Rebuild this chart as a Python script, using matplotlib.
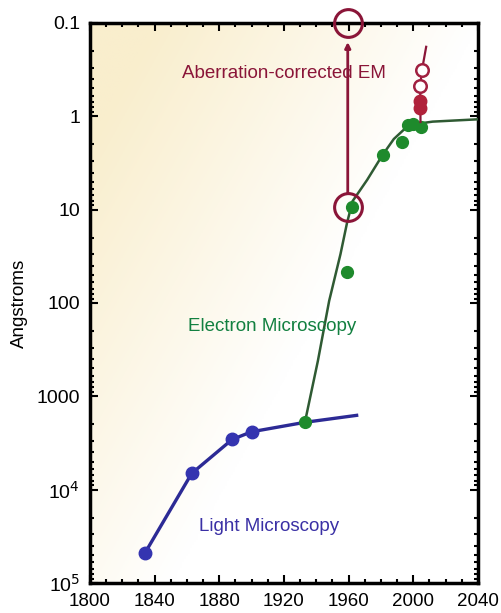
import numpy as np
import matplotlib
matplotlib.use("Agg")
import matplotlib.pyplot as plt
from matplotlib.ticker import FixedLocator, LogLocator, NullFormatter, MultipleLocator

plt.rcParams['font.family'] = ['Liberation Sans', 'DejaVu Sans']

# Light microscopy (blue)
light_years = [1834, 1863, 1888, 1900, 1933]
light_res = [48000, 6700, 2900, 2400, 1900]
light_curve_x = [1834, 1863, 1888, 1900, 1933, 1965]
light_curve_y = [48000, 6700, 2900, 2400, 1900, 1600]

# Electron microscopy (green)
em_years = [1933, 1959, 1962, 1981, 1993, 1997, 2000, 2005]
em_res = [1900, 47, 9.4, 2.6, 1.9, 1.25, 1.2, 1.3]
em_curve_x = [1933, 1941, 1948, 1955, 1959, 1962.5, 1971.5, 1981, 1988, 1994, 2000, 2012, 2043]
em_curve_y = [1900, 420, 95, 30, 14, 8.1, 4.8, 2.6, 1.75, 1.4, 1.22, 1.14, 1.07]

# Aberration-corrected EM (red)
ac_filled_x = [2004, 2004]
ac_filled_y = [0.69, 0.81]
ac_open_x = [2004.3, 2005.4]
ac_open_y = [0.47, 0.32]
ac_line_x = [2004.5, 2004.3, 2005.4, 2008]
ac_line_y = [1.15, 0.47, 0.32, 0.18]
ring_x = [1959.5, 1959.5]
ring_y = [9.4, 0.1]

ytick_vals = [0.1, 1, 10, 100, 1000, 1e4, 1e5]
ytick_labels = ['0.1', '1', '10', '100', '1000', '10$^4$', '10$^5$']
xtick_vals = [1800, 1840, 1880, 1920, 1960, 2000, 2040]

fig = plt.figure(figsize=(5.02, 6.13), dpi=100)
ax = fig.add_axes([0.179, 0.049, 0.773, 0.9135])

# soft cream background fading to white
u, v = np.meshgrid(np.linspace(0, 1, 200), np.linspace(1, 0, 200))
a = np.clip(1.2 - 1.2 * u - 0.95 * (1 - v), 0, 1)[..., None]
cream = np.array([249, 238, 205]) / 255.0
bg = (1 - a) * np.ones(3) + a * cream
ax.imshow(bg, extent=[0, 1, 0, 1], transform=ax.transAxes, aspect='auto', zorder=0)

ax.set_yscale('log')
ax.set_xlim(1800, 2040)
ax.set_ylim(1e5, 0.1)

blue = '#2c2a95'
green_line = '#2f5a33'
green_dot = '#1e8a2c'
red = '#8a1538'

ax.plot(light_curve_x, light_curve_y, color=blue, lw=2.4, zorder=3)
ax.plot(light_years[:-1], light_res[:-1], 'o', color='#3434b0', ms=9, zorder=4)

ax.plot(em_curve_x, em_curve_y, color=green_line, lw=1.8, zorder=3)
ax.plot(em_years, em_res, 'o', color=green_dot, ms=8.5, zorder=4)

ax.plot(ac_line_x, ac_line_y, color=red, lw=1.6, zorder=5)
ax.plot(ac_filled_x, ac_filled_y, 'o', color='#b0213a', ms=9, zorder=6)
ax.plot(ac_open_x, ac_open_y, 'o', mfc='white', mec='#a02040', mew=1.8, ms=9, zorder=6)
ax.plot(ring_x, ring_y, 'o', mfc='none', mec=red, mew=2.2, ms=20, zorder=6,
        clip_on=False)
ax.annotate('', xy=(1959.5, 0.16), xytext=(1959.5, 6.7),
            arrowprops=dict(arrowstyle='-|>', color=red, lw=2.0,
                            mutation_scale=8, shrinkA=0, shrinkB=0),
            zorder=5)

ax.text(1920, 0.35, 'Aberration-corrected EM', color=red, fontsize=13.5,
        ha='center', va='center')
ax.text(1913, 180, 'Electron Microscopy', color='#128040', fontsize=13.5,
        ha='center', va='center')
ax.text(1911, 25000, 'Light Microscopy', color='#3a30a5', fontsize=13.5,
        ha='center', va='center')

ax.set_ylabel('Angstroms', fontsize=13.5, labelpad=6)

ax.yaxis.set_major_locator(FixedLocator(ytick_vals))
ax.set_yticklabels(ytick_labels, fontsize=14)
ax.yaxis.set_minor_locator(LogLocator(base=10, subs=np.arange(2, 10)))
ax.yaxis.set_minor_formatter(NullFormatter())
ax.set_xticks(xtick_vals)
ax.set_xticklabels([str(x) for x in xtick_vals], fontsize=13.5)
ax.xaxis.set_minor_locator(MultipleLocator(10))

ax.tick_params(which='both', direction='in', top=True, right=True, width=1.5)
ax.tick_params(which='major', length=6, pad=7)
ax.tick_params(which='minor', length=3)
for s in ax.spines.values():
    s.set_linewidth(2.5)

fig.savefig('out.png', dpi=100)
